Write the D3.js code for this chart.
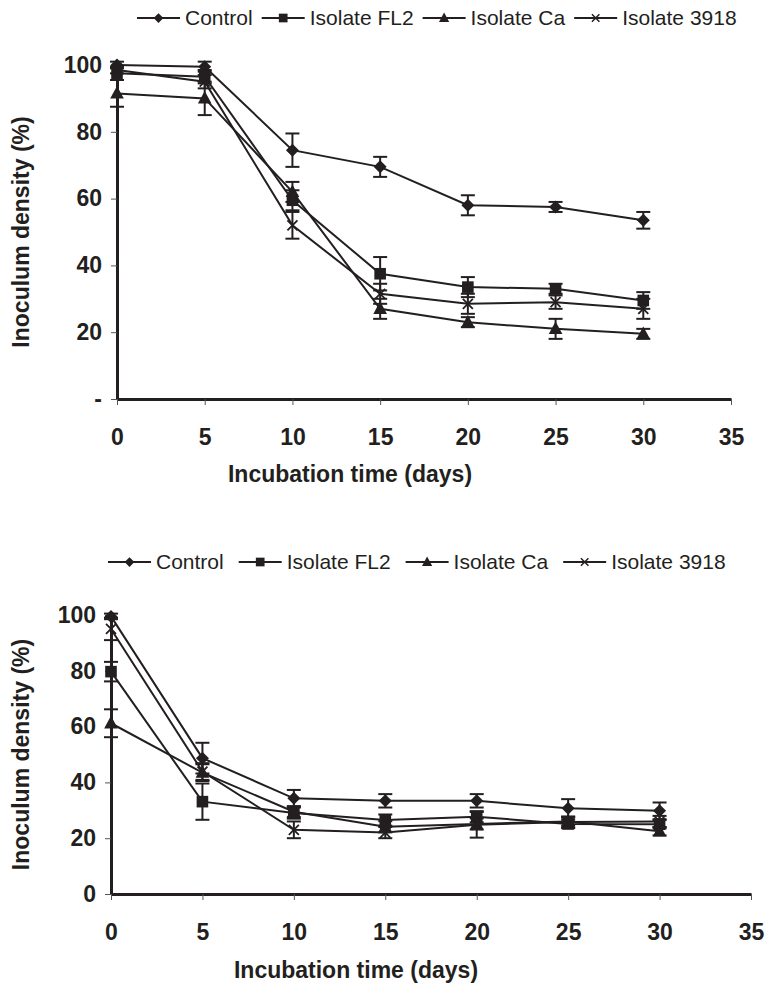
<!DOCTYPE html>
<html>
<head>
<meta charset="utf-8">
<script src="https://cdn.jsdelivr.net/npm/d3@7"></script>
<style>
  body { margin: 0; background: #fff; }
  text { font-family: "Liberation Sans", Arial, sans-serif; fill: #231f20; }
</style>
</head>
<body>
<script>
// sampling days
var days = [0, 5, 10, 15, 20, 25, 30];
var xTicks = [0, 5, 10, 15, 20, 25, 30, 35];
var yTicks = [0, 20, 40, 60, 80, 100];
var seriesNames = ["Control", "Isolate FL2", "Isolate Ca", "Isolate 3918"];

// top chart (%)
var topControl = [100, 99.5, 74.5, 69.5, 58, 57.5, 53.5];
var topFL2     = [97.5, 96.5, 59.5, 37.5, 33.5, 33, 29.5];
var topCa      = [91.5, 90, 62, 27, 23, 21, 19.5];
var top3918    = [98.5, 95, 52, 31.5, 28.5, 29, 27];
var topControlErr = [1, 1.5, 5, 3, 3, 1.5, 2.5];
var topFL2Err     = [2, 2, 3, 5, 3, 1.5, 2.5];
var topCaErr      = [4, 5, 3, 3, 1.5, 3, 1.5];
var top3918Err    = [1, 2, 4, 3, 3, 2, 3];

// bottom chart (%)
var botControl = [99.5, 48.7, 34.3, 33.4, 33.4, 30.7, 29.8];
var botFL2     = [79.7, 33.1, 29, 26.5, 27.7, 25.1, 25];
var botCa      = [61.2, 43.5, 29.5, 24.1, 25.1, 26, 22.5];
var bot3918    = [95, 43.9, 23, 22, 24.8, 25.8, 26];
var botControlErr = [1, 5.5, 3, 2.4, 2.4, 3.3, 3];
var botFL2Err     = [3.5, 6.5, 2, 2, 2, 1.5, 1.5];
var botCaErr      = [5, 3, 2, 2, 2, 1.5, 1.5];
var bot3918Err    = [4, 3, 3, 2, 4.6, 2, 2];

var ink = "#231f20";

var markers = {
  diamond: function(s) { return "M0," + (-s) + "L" + s + ",0L0," + s + "L" + (-s) + ",0Z"; },
  square: function(s) { return "M" + (-s) + "," + (-s) + "h" + (2*s) + "v" + (2*s) + "h" + (-2*s) + "Z"; },
  triangle: function(s) { return "M0," + (-s*1.15) + "L" + (s*1.05) + "," + (s*0.8) + "L" + (-s*1.05) + "," + (s*0.8) + "Z"; },
  cross: function(s) { return "M" + (-s) + "," + (-s) + "L" + s + "," + s + "M" + s + "," + (-s) + "L" + (-s) + "," + s; }
};
var markerTypes = ["diamond", "square", "triangle", "cross"];
var markerSize = [6.5, 5.8, 6.5, 5];

var svg = d3.select("body").append("svg")
    .attr("width", 767)
    .attr("height", 992);

function drawChart(cfg) {
  var g = svg.append("g");
  var x = d3.scaleLinear().domain([0, 35]).range([cfg.left, cfg.right]);
  var y = d3.scaleLinear().domain([0, 100]).range([cfg.bottom, cfg.top]);

  // axes
  var yAxis = g.append("g")
      .attr("transform", "translate(" + cfg.left + ",0)")
      .call(d3.axisLeft(y).tickValues(yTicks).tickSize(6).tickSizeOuter(0).tickPadding(9)
        .tickFormat(function(d) { return d === 0 ? cfg.zeroLabel : d; }));
  var xAxis = g.append("g")
      .attr("transform", "translate(0," + cfg.bottom + ")")
      .call(d3.axisBottom(x).tickValues(xTicks).tickSize(6).tickSizeOuter(0).tickPadding(24));
  [xAxis, yAxis].forEach(function(a) {
    a.select(".domain").attr("stroke", ink).attr("stroke-width", 3);
    a.selectAll(".tick line").attr("stroke", "#555").attr("stroke-width", 1);
    a.selectAll(".tick text").attr("font-family", "Liberation Sans, Arial, sans-serif")
      .attr("font-size", 23).attr("font-weight", "bold").attr("fill", ink);
  });

  // axis titles
  g.append("text")
      .attr("x", cfg.xTitleX).attr("y", cfg.xTitleY)
      .attr("text-anchor", "middle")
      .attr("font-size", 23).attr("font-weight", "bold")
      .text("Incubation time (days)");
  g.append("text")
      .attr("transform", "translate(" + 29 + "," + ((cfg.top + cfg.bottom) / 2) + ") rotate(-90)")
      .attr("text-anchor", "middle")
      .attr("font-size", 23).attr("font-weight", "bold")
      .text("Inoculum density (%)");

  var line = d3.line()
      .x(function(d) { return x(d.day); })
      .y(function(d) { return y(d.v); });

  cfg.series.forEach(function(vals, si) {
    var pts = days.map(function(d, i) { return { day: d, v: vals[i], e: cfg.errors[si][i] }; });
    var sg = g.append("g");
    sg.append("path").datum(pts)
        .attr("d", line)
        .attr("fill", "none").attr("stroke", ink).attr("stroke-width", 2);
    // error bars
    var eb = sg.selectAll(".eb").data(pts).enter().append("g");
    eb.append("line")
        .attr("x1", function(d) { return x(d.day); }).attr("x2", function(d) { return x(d.day); })
        .attr("y1", function(d) { return y(d.v - d.e); }).attr("y2", function(d) { return y(d.v + d.e); })
        .attr("stroke", ink).attr("stroke-width", 2);
    [-1, 1].forEach(function(sign) {
      eb.append("line")
          .attr("x1", function(d) { return x(d.day) - 7; }).attr("x2", function(d) { return x(d.day) + 7; })
          .attr("y1", function(d) { return y(d.v + sign * d.e); }).attr("y2", function(d) { return y(d.v + sign * d.e); })
          .attr("stroke", ink).attr("stroke-width", 2);
    });
    // markers
    var type = markerTypes[si];
    sg.selectAll(".mk").data(pts).enter().append("path")
        .attr("transform", function(d) { return "translate(" + x(d.day) + "," + y(d.v) + ")"; })
        .attr("d", markers[type](markerSize[si]))
        .attr("fill", type === "cross" ? "none" : ink)
        .attr("stroke", ink).attr("stroke-width", type === "cross" ? 1.8 : 0);
  });

  // legend
  var lx = cfg.legendX;
  seriesNames.forEach(function(name, si) {
    var type = markerTypes[si];
    g.append("line")
        .attr("x1", lx).attr("x2", lx + 43)
        .attr("y1", cfg.legendY - 7).attr("y2", cfg.legendY - 7)
        .attr("stroke", ink).attr("stroke-width", 1.8);
    g.append("path")
        .attr("transform", "translate(" + (lx + 21.5) + "," + (cfg.legendY - 7) + ")")
        .attr("d", markers[type](markerSize[si] * 0.75))
        .attr("fill", type === "cross" ? "none" : ink)
        .attr("stroke", ink).attr("stroke-width", type === "cross" ? 1.5 : 0);
    var t = g.append("text")
        .attr("x", lx + 48).attr("y", cfg.legendY)
        .attr("font-size", 21)
        .text(name);
    lx = lx + 48 + t.node().getComputedTextLength() + cfg.legendGap;
  });
}

drawChart({
  left: 117, right: 731, top: 65, bottom: 399,
  zeroLabel: "-",
  series: [topControl, topFL2, topCa, top3918],
  errors: [topControlErr, topFL2Err, topCaErr, top3918Err],
  xTitleX: 350, xTitleY: 482,
  legendX: 137, legendY: 25, legendGap: 9
});

drawChart({
  left: 111, right: 751, top: 615, bottom: 894,
  zeroLabel: "0",
  series: [botControl, botFL2, botCa, bot3918],
  errors: [botControlErr, botFL2Err, botCaErr, bot3918Err],
  xTitleX: 356, xTitleY: 978,
  legendX: 108, legendY: 569, legendGap: 15
});
</script>
</body>
</html>
